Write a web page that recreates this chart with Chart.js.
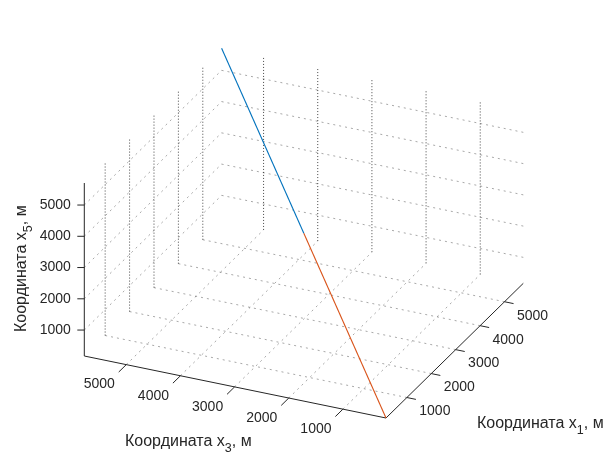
<!DOCTYPE html>
<html>
<head>
<meta charset="utf-8">
<script src="https://cdn.jsdelivr.net/npm/chart.js@4/dist/chart.umd.min.js"></script>
<style>
  html, body { margin: 0; padding: 0; background: #ffffff; }
  canvas { display: block; }
</style>
</head>
<body>
<canvas id="chart" width="604" height="453"></canvas>
<script>
// Tick values shared by the three axes
const tickValues = [1000, 2000, 3000, 4000, 5000];
const tickLabels = ['1000', '2000', '3000', '4000', '5000'];

// Trajectory, first half (x1, x3, x5 in metres)
const lowerX1 = [145, 2958];
const lowerX3 = [205, 2990];
const lowerX5 = [170, 2937];

// Trajectory, second half
const upperX1 = [2958, 5770];
const upperX3 = [2990, 5775];
const upperX5 = [2937, 5705];

// Axis limits follow the data range
const allX1 = lowerX1.concat(upperX1);
const allX3 = lowerX3.concat(upperX3);
const allX5 = lowerX5.concat(upperX5);
const LIM1 = [Math.min(...allX1), Math.max(...allX1)];
const LIM3 = [Math.min(...allX3), Math.max(...allX3)];
const LIM5 = [Math.min(...allX5), Math.max(...allX5)];

// Orthographic view: where the (min,min,min) corner lands and the edge vectors of the box
const VIEW = {
  ox: 386, oy: 418,
  e1: [137.3, -134.7],
  e3: [-301.7, -62],
  e5: [0, -173]
};

function proj(a, b, c) {
  const n1 = (a - LIM1[0]) / (LIM1[1] - LIM1[0]);
  const n3 = (b - LIM3[0]) / (LIM3[1] - LIM3[0]);
  const n5 = (c - LIM5[0]) / (LIM5[1] - LIM5[0]);
  return {
    x: VIEW.ox + n1 * VIEW.e1[0] + n3 * VIEW.e3[0] + n5 * VIEW.e5[0],
    y: VIEW.oy + n1 * VIEW.e1[1] + n3 * VIEW.e3[1] + n5 * VIEW.e5[1]
  };
}

// Join [from, to] pairs into one polyline with gaps between the pieces
function pieces(list) {
  const out = [];
  list.forEach(([p, q]) => { out.push(p, q, { x: p.x, y: null }); });
  return out;
}

function path(xs, ys, zs) {
  return xs.map((v, i) => proj(v, ys[i], zs[i]));
}

const r1 = LIM1[1] - LIM1[0];
const r3 = LIM3[1] - LIM3[0];

// Grid on the floor and on the two back walls
const floorGrid = pieces([
  ...tickValues.map(t => [proj(t, LIM3[0], LIM5[0]), proj(t, LIM3[1], LIM5[0])]),
  ...tickValues.map(t => [proj(LIM1[0], t, LIM5[0]), proj(LIM1[1], t, LIM5[0])])
]);
const wallLevels = pieces([
  ...tickValues.map(t => [proj(LIM1[0], LIM3[1], t), proj(LIM1[1], LIM3[1], t)]),
  ...tickValues.map(t => [proj(LIM1[1], LIM3[0], t), proj(LIM1[1], LIM3[1], t)])
]);
const wallUprights = pieces([
  ...tickValues.map(t => [proj(t, LIM3[1], LIM5[0]), proj(t, LIM3[1], LIM5[1])]),
  ...tickValues.map(t => [proj(LIM1[1], t, LIM5[0]), proj(LIM1[1], t, LIM5[1])])
]);

// Axis lines and tick marks
const axisLines = pieces([
  [proj(LIM1[0], LIM3[0], LIM5[0]), proj(LIM1[0], LIM3[1], LIM5[0])],
  [proj(LIM1[0], LIM3[0], LIM5[0]), proj(LIM1[1], LIM3[0], LIM5[0])],
  [proj(LIM1[0], LIM3[1], LIM5[0]), proj(LIM1[0], LIM3[1], LIM5[1])],
  ...tickValues.map(t => [proj(LIM1[0], t, LIM5[0]), proj(LIM1[0] - 0.055 * r1, t, LIM5[0])]),
  ...tickValues.map(t => [proj(t, LIM3[0], LIM5[0]), proj(t, LIM3[0] - 0.03 * r3, LIM5[0])]),
  ...tickValues.map(t => {
    const p = proj(LIM1[0], LIM3[1], t);
    return [p, { x: p.x - 7, y: p.y }];
  })
]);

const INK = '#262626';
const FONT = '"Liberation Sans", Arial, Helvetica, sans-serif';

function drawLabel(ctx, x, y, main, sub, tail, size, subSize, drop) {
  ctx.font = size + 'px ' + FONT;
  const w1 = ctx.measureText(main).width;
  ctx.font = subSize + 'px ' + FONT;
  const w2 = ctx.measureText(sub).width;
  ctx.font = size + 'px ' + FONT;
  ctx.textBaseline = 'alphabetic';
  ctx.textAlign = 'left';
  ctx.fillText(main, x, y);
  ctx.font = subSize + 'px ' + FONT;
  ctx.fillText(sub, x + w1, y + drop);
  ctx.font = size + 'px ' + FONT;
  ctx.fillText(tail, x + w1 + w2, y);
  return w1 + w2 + ctx.measureText(tail).width;
}

const labelsPlugin = {
  id: 'boxLabels',
  afterDraw(chart) {
    const ctx = chart.ctx;
    const sx = chart.scales.x, sy = chart.scales.y;
    const px = p => ({ x: sx.getPixelForValue(p.x), y: sy.getPixelForValue(p.y) });
    ctx.save();
    ctx.fillStyle = INK;
    ctx.font = '14px ' + FONT;
    ctx.textBaseline = 'middle';

    // x5 tick labels
    ctx.textAlign = 'right';
    tickValues.forEach((t, i) => {
      const p = px(proj(LIM1[0], LIM3[1], t));
      ctx.fillText(tickLabels[i], p.x - 13.5, p.y);
    });
    // x3 tick labels
    ctx.textAlign = 'center';
    tickValues.forEach((t, i) => {
      const p = px(proj(LIM1[0], t, LIM5[0]));
      ctx.fillText(tickLabels[i], p.x - 27, p.y + 20);
    });
    // x1 tick labels
    tickValues.forEach((t, i) => {
      const p = px(proj(t, LIM3[0], LIM5[0]));
      ctx.fillText(tickLabels[i], p.x + 28, p.y + 14);
    });

    // axis titles
    drawLabel(ctx, 125, 446, 'Координата x', '3', ', м', 16, 12.5, 6);
    drawLabel(ctx, 477, 428, 'Координата x', '1', ', м', 16, 12.5, 6);
    ctx.save();
    ctx.translate(26, 332);
    ctx.rotate(-Math.PI / 2);
    drawLabel(ctx, 0, 0, 'Координата x', '5', ', м', 16, 12.5, 6);
    ctx.restore();
    ctx.restore();
  }
};

new Chart(document.getElementById('chart'), {
  type: 'scatter',
  data: {
    datasets: [
      {
        data: path(upperX1, upperX3, upperX5),
        showLine: true, borderColor: '#0072BD', borderWidth: 1.1,
        pointRadius: 0, order: 0
      },
      {
        data: path(lowerX1, lowerX3, lowerX5),
        showLine: true, borderColor: '#D95319', borderWidth: 1.1,
        pointRadius: 0, order: 0
      },
      {
        data: axisLines, showLine: true, spanGaps: false,
        borderColor: INK, borderWidth: 1, pointRadius: 0, order: 1
      },
      {
        data: wallUprights, showLine: true, spanGaps: false,
        borderColor: 'rgba(38,38,38,0.85)', borderWidth: 1, borderDash: [1, 2],
        pointRadius: 0, order: 2
      },
      {
        data: wallLevels, showLine: true, spanGaps: false,
        borderColor: 'rgba(38,38,38,0.4)', borderWidth: 1, borderDash: [2, 4],
        pointRadius: 0, order: 3
      },
      {
        data: floorGrid, showLine: true, spanGaps: false,
        borderColor: 'rgba(38,38,38,0.4)', borderWidth: 1, borderDash: [2, 4],
        pointRadius: 0, order: 3
      }
    ]
  },
  options: {
    responsive: false,
    animation: false,
    devicePixelRatio: 1,
    layout: { padding: 0 },
    clip: false,
    plugins: { legend: { display: false }, tooltip: { enabled: false } },
    scales: {
      x: { type: 'linear', min: 0, max: 604, display: false },
      y: { type: 'linear', min: 0, max: 453, reverse: true, display: false }
    }
  },
  plugins: [labelsPlugin]
});
</script>
</body>
</html>
